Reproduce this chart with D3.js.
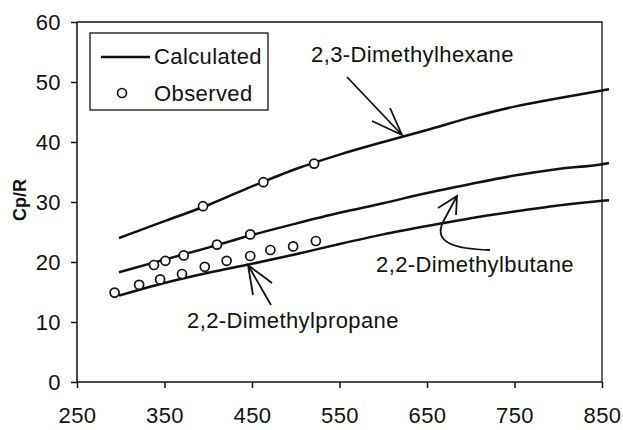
<!DOCTYPE html>
<html>
<head>
<meta charset="utf-8">
<script src="https://cdn.jsdelivr.net/npm/d3@7"></script>
<style>
body { margin: 0; background: #fff; }
svg { font-family: Arial, "Liberation Sans", sans-serif; }
.axis text { font-size: 22px; fill: #111; letter-spacing: 0.4px; }
.axis path, .axis line { stroke: #111; stroke-width: 1.5; }
.label { font-size: 22px; fill: #111; letter-spacing: 0.4px; }
</style>
</head>
<body>
<svg id="chart" width="623" height="430"></svg>
<script>
// temperatures (K) for the calculated curves
let temps = [298, 350, 400, 450, 500, 550, 600, 650, 700, 750, 800, 850, 858]

// calculated Cp/R
let hexaneCalc  = [24.0, 26.8, 29.5, 32.6, 35.5, 37.9, 40.0, 42.0, 44.1, 45.9, 47.3, 48.6, 48.8]
let butaneCalc  = [18.3, 20.4, 22.4, 24.5, 26.4, 28.2, 29.8, 31.5, 33.0, 34.4, 35.5, 36.3, 36.5]
let propaneCalc = [14.4, 16.5, 18.2, 19.7, 21.3, 23.0, 24.6, 26.0, 27.3, 28.4, 29.4, 30.2, 30.3]

// observed points [T, Cp/R]
let hexaneObs  = [[394, 29.3], [463, 33.3], [521, 36.4]]
let butaneObs  = [[338, 19.5], [351, 20.2], [372, 21.1], [410, 22.9], [448, 24.6]]
let propaneObs = [[293, 14.9], [321, 16.2], [345, 17.1], [370, 18.0], [396, 19.2],
                  [421, 20.2], [448, 21.0], [471, 22.0], [497, 22.6], [523, 23.5]]

let xTicks = [250, 350, 450, 550, 650, 750, 850]
let yTicks = [0, 10, 20, 30, 40, 50, 60]

let svg = d3.select('#chart')

let x = d3.scaleLinear().domain([250, 850]).range([77, 602])
let y = d3.scaleLinear().domain([0, 60]).range([382, 22])

// frame (top + right)
svg.append('path')
	.attr('d', 'M' + x(250) + ',' + y(60) + 'H' + x(850) + 'V' + y(0))
	.attr('fill', 'none')
	.attr('stroke', '#111')
	.attr('stroke-width', 1.3)

let xAxis = d3.axisBottom(x).tickValues(xTicks).tickSize(6).tickPadding(19).tickFormat(d3.format('d'))
let yAxis = d3.axisLeft(y).tickValues(yTicks).tickSize(6).tickPadding(10)

svg.append('g')
	.attr('class', 'axis')
	.attr('transform', 'translate(0,' + y(0) + ')')
	.call(xAxis)
	.call(g => g.select('.domain').attr('d', 'M' + x(250) + ',0H' + x(850)))

svg.append('g')
	.attr('class', 'axis')
	.attr('transform', 'translate(' + x(250) + ',0)')
	.call(yAxis)
	.call(g => g.select('.domain').attr('d', 'M0,' + y(0) + 'V' + y(60)))

svg.append('text')
	.attr('transform', 'translate(26,200) rotate(-90)')
	.attr('text-anchor', 'middle')
	.style('font-size', '18px')
	.style('font-weight', 'bold')
	.attr('fill', '#111')
	.text('Cp/R')

// calculated lines
let line = d3.line()
	.x((d, i) => x(temps[i]))
	.y(d => y(d))
	.curve(d3.curveMonotoneX)

let calcs = [hexaneCalc, butaneCalc, propaneCalc]
calcs.forEach(function(c){
	svg.append('path')
		.datum(c)
		.attr('d', line)
		.attr('fill', 'none')
		.attr('stroke', '#111')
		.attr('stroke-width', 2.5)
})

// observed circles
let obs = hexaneObs.concat(butaneObs, propaneObs)
svg.selectAll('circle.obs')
	.data(obs)
	.enter()
		.append('circle')
		.attr('class', 'obs')
		.attr('cx', d => x(d[0]))
		.attr('cy', d => y(d[1]))
		.attr('r', 4.5)
		.attr('fill', '#fff')
		.attr('stroke', '#111')
		.attr('stroke-width', 1.7)

// legend
let leg = svg.append('g')
leg.append('rect')
	.attr('x', 90).attr('y', 33)
	.attr('width', 178).attr('height', 77)
	.attr('fill', '#fff')
	.attr('stroke', '#111')
	.attr('stroke-width', 1.3)
leg.append('line')
	.attr('x1', 101).attr('x2', 150)
	.attr('y1', 57).attr('y2', 57)
	.attr('stroke', '#111')
	.attr('stroke-width', 2.5)
leg.append('text').attr('class', 'label').attr('x', 154).attr('y', 64).text('Calculated')
leg.append('circle')
	.attr('cx', 122).attr('cy', 93).attr('r', 4.5)
	.attr('fill', '#fff').attr('stroke', '#111').attr('stroke-width', 1.7)
leg.append('text').attr('class', 'label').attr('x', 154).attr('y', 101).text('Observed')

// annotations
function arrow(d){
	svg.append('path')
		.attr('d', d)
		.attr('fill', 'none')
		.attr('stroke', '#111')
		.attr('stroke-width', 1.8)
}

svg.append('text').attr('class', 'label').attr('x', 311).attr('y', 62).text('2,3-Dimethylhexane')
arrow('M347,77L402,135M372,121L402,135L390,108')

svg.append('text').attr('class', 'label').attr('x', 376).attr('y', 272).text('2,2-Dimethylbutane')
arrow('M490,250C455,249 433,243 443,222L457,196M438,208L457,196L456,215')

svg.append('text').attr('class', 'label').attr('x', 187).attr('y', 328).text('2,2-Dimethylpropane')
arrow('M271,305L248,265M253,295L248,265L272,283')
</script>
</body>
</html>
